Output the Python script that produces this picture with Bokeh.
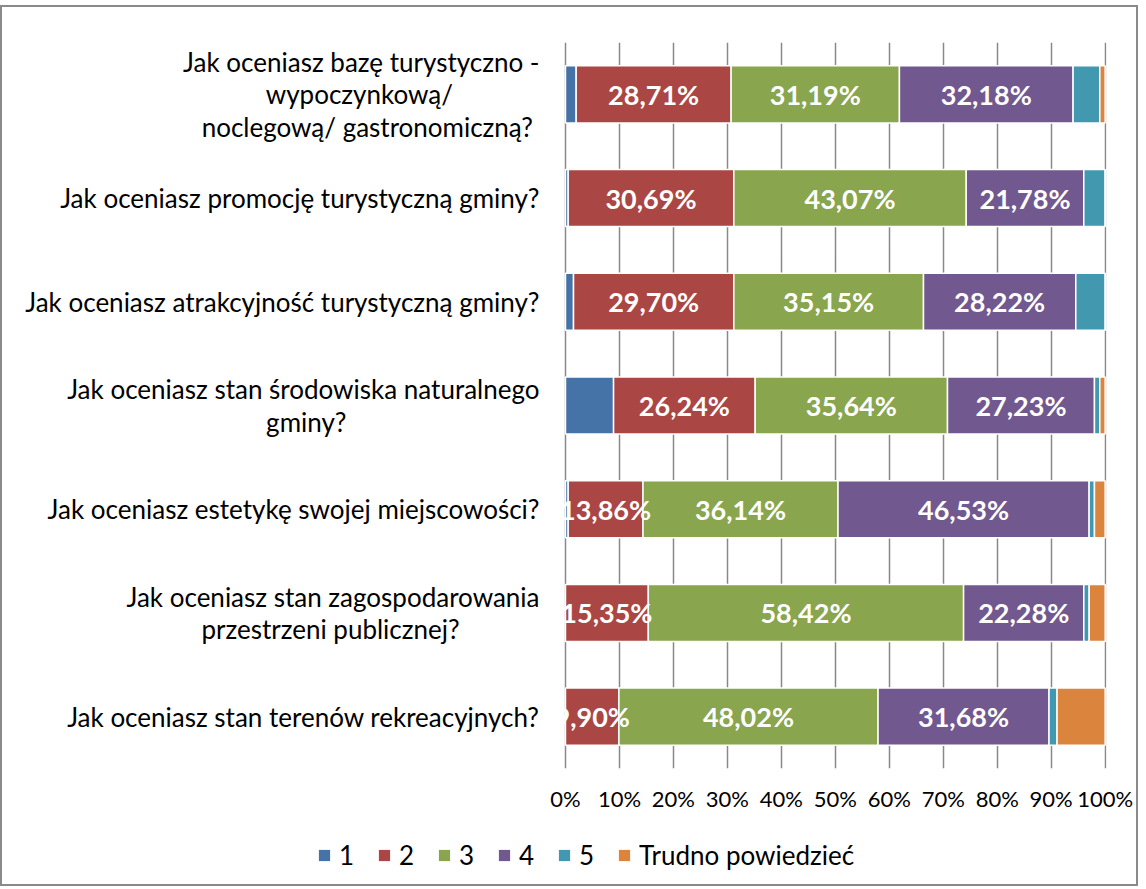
from bokeh.plotting import figure
from bokeh.layouts import column
from bokeh.models import FactorRange, Range1d, Legend, LegendItem, FixedTicker, ColumnDataSource, CustomJSTickFormatter
from bokeh.core.properties import value
from bokeh.embed import file_html
from bokeh.resources import INLINE

# question texts, one list of lines per question (top to bottom)
questions = [
    ["Jak oceniasz bazę turystyczno -", "wypoczynkową/", "noclegową/ gastronomiczną?"],
    ["Jak oceniasz promocję turystyczną gminy?"],
    ["Jak oceniasz atrakcyjność turystyczną gminy?"],
    ["Jak oceniasz stan środowiska naturalnego", "gminy?"],
    ["Jak oceniasz estetykę swojej miejscowości?"],
    ["Jak oceniasz stan zagospodarowania", "przestrzeni publicznej?"],
    ["Jak oceniasz stan terenów rekreacyjnych?"],
]
series_names = ["1", "2", "3", "4", "5", "Trudno powiedzieć"]
s1 = [1.98, 0.50, 1.49, 8.91, 0.50, 0.00, 0.00]
s2 = [28.71, 30.69, 29.70, 26.24, 13.86, 15.35, 9.90]
s3 = [31.19, 43.07, 35.15, 35.64, 36.14, 58.42, 48.02]
s4 = [32.18, 21.78, 28.22, 27.23, 46.53, 22.28, 31.68]
s5 = [4.95, 3.96, 5.45, 0.99, 0.99, 0.99, 1.49]
s6 = [0.99, 0.00, 0.00, 0.99, 1.98, 2.97, 8.91]
colors = ["#4572A7", "#AA4643", "#89A54E", "#71588F", "#4198AF", "#DB843D"]
x_ticks = [0, 10, 20, 30, 40, 50, 60, 70, 80, 90, 100]

# trailing no-break spaces so the short lines look centred under the long one
line_pads = {(0, 1): 13, (0, 2): 1, (3, 1): 29, (5, 1): 12}
categories = []
for qi, lines in enumerate(questions):
    padded = [ln + "\u00a0" * line_pads.get((qi, li), 0) for li, ln in enumerate(lines)]
    categories.append("\n".join(padded))

series = [s1, s2, s3, s4, s5, s6]
keys = ["s%d" % i for i in range(6)]
data = {"cat": categories}
for k, s in zip(keys, series):
    data[k] = s
src = ColumnDataSource(data)

FONT = "Lato"
TOTAL_W = 1134

p = figure(output_backend="svg", toolbar_location=None,
           y_range=FactorRange(factors=list(reversed(categories))),
           x_range=Range1d(-1.48, 100.25),
           frame_width=549, frame_height=726,
           min_border_left=555, min_border_right=30, min_border_top=35, min_border_bottom=40)
p.outline_line_color = None

renderers = p.hbar_stack(keys, y="cat", height=0.55, color=colors, source=src,
                         line_color="white", line_width=1.5)

# labels for series 2-4
lx, ly, lt = [], [], []
for i, cat in enumerate(categories):
    cum = 0.0
    for j, s in enumerate(series):
        v = s[i]
        if j in (1, 2, 3):
            lx.append(cum + v / 2.0)
            ly.append(cat)
            lt.append(("%.2f%%" % v).replace(".", ","))
        cum += v
p.text(x=lx, y=ly, text=lt, text_align="center", text_baseline="middle",
       text_color="white", text_font=value(FONT), text_font_style="bold",
       text_font_size="27px")

p.xaxis.ticker = FixedTicker(ticks=x_ticks)
p.xaxis.formatter = CustomJSTickFormatter(code="return tick.toFixed(0) + '%';")
p.xaxis.axis_line_color = None
p.xaxis.major_tick_line_color = None
p.xaxis.minor_tick_line_color = None
p.xaxis.major_label_standoff = 10
p.xaxis.major_label_text_font = FONT
p.xaxis.major_label_text_font_size = "22px"
p.xaxis.major_label_text_color = "black"

p.yaxis.axis_line_color = None
p.yaxis.major_tick_line_color = None
p.yaxis.minor_tick_line_color = None
p.yaxis.major_label_standoff = 12
p.yaxis.major_label_text_font = FONT
p.yaxis.major_label_text_font_size = "26px"
p.yaxis.major_label_text_line_height = 1.02
p.yaxis.major_label_text_color = "black"

p.xgrid.ticker = FixedTicker(ticks=x_ticks)
p.xgrid.grid_line_color = "#888888"
p.xgrid.grid_line_width = 1.5
p.ygrid.grid_line_color = None
p.background_fill_color = None

# legend strip below the chart (swatch renderers hold no visible data)
nan = float("nan")
pl = figure(output_backend="svg", toolbar_location=None,
            frame_width=TOTAL_W, frame_height=70,
            x_range=Range1d(0, 1), y_range=Range1d(0, 1),
            min_border_left=0, min_border_right=0, min_border_top=0, min_border_bottom=0)
pl.axis.visible = False
pl.grid.visible = False
pl.outline_line_color = None
leg_renderers = [pl.quad(left=[nan], right=[nan], bottom=[nan], top=[nan],
                         fill_color=c, line_color=None)
                 for c in colors]
legend = Legend(items=[LegendItem(label=n, renderers=[r]) for n, r in zip(series_names, leg_renderers)],
                orientation="horizontal", location=(315, 13),
                label_text_font=FONT, label_text_font_size="26px", label_text_color="black",
                glyph_width=14, glyph_height=14, spacing=18, label_standoff=8,
                border_line_color=None, background_fill_alpha=0, margin=0, padding=0)
pl.add_layout(legend, "center")

layout = column(p, pl, spacing=0,
                styles={"border": "2px solid #8a8a8a", "margin-top": "5px"})

open("out.html", "w").write(file_html(layout, INLINE))
